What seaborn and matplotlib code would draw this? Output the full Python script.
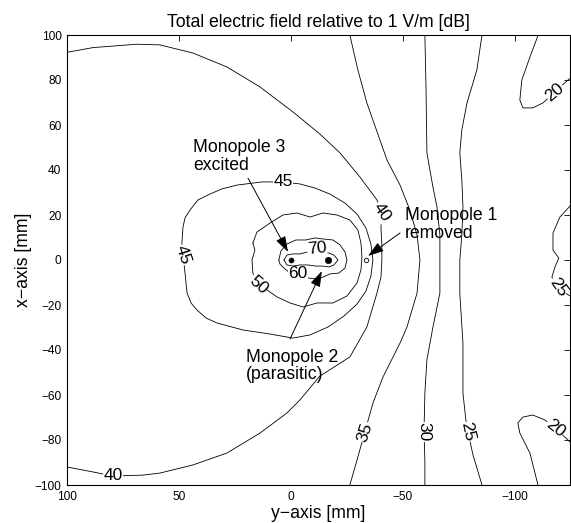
import matplotlib
matplotlib.use("Agg")
import matplotlib.pyplot as plt
import pandas as pd
import seaborn as sns

sns.set_theme(style="white")
plt.rcParams["font.family"] = ["Liberation Sans", "DejaVu Sans"]
plt.rcParams["axes.unicode_minus"] = True
plt.rcParams["text.color"] = "black"
plt.rcParams["axes.labelcolor"] = "black"
plt.rcParams["xtick.color"] = "black"
plt.rcParams["ytick.color"] = "black"

# Iso-lines of the total electric field (dB re 1 V/m).
# Horizontal coordinate: y-axis [mm]; vertical coordinate: x-axis [mm].
c20a_y = [-110.4, -106.7, -103.1, -102.2, -103.6, -108.0, -112.5, -117.9, -123.7, -126.0]
c20a_x = [100.0, 90.2, 80.0, 71.1, 67.6, 67.6, 69.8, 74.7, 80.0, 81.8]

c20b_y = [-110.3, -106.7, -102.2, -101.3, -103.6, -108.0, -113.4, -117.9, -123.7, -126.0]
c20b_x = [-100.0, -85.8, -76.9, -72.4, -69.8, -68.9, -71.1, -74.7, -80.0, -82.0]

c25a_y = [-85.3, -83.0, -78.6, -76.3, -75.4, -76.3, -76.8, -76.3, -75.4, -75.4,
          -76.8, -76.8, -78.1, -79.0, -81.3, -85.3]
c25a_x = [100.0, 84.4, 69.8, 57.8, 47.6, 35.6, 23.6, 11.1, 0.0, -14.7,
          -36.9, -59.1, -71.1, -76.4, -86.7, -100.0]

c25b_y = [-126.0, -120.1, -117.0, -117.0, -119.6, -117.9, -116.5, -119.2, -123.2, -126.0]
c25b_x = [25.5, 19.1, 12.0, 4.4, 0.9, -3.1, -7.6, -12.0, -15.1, -16.8]

c30_y = [-59.8, -60.3, -60.7, -63.4, -65.2, -66.5, -66.5, -66.5, -63.4, -60.7,
         -59.8, -59.4, -59.8, -59.8]
c30_x = [100.0, 76.9, 47.6, 32.4, 23.6, 11.1, 0.0, -14.7, -29.8, -44.4,
         -59.1, -76.4, -88.9, -100.0]

c35_y = [-26.3, -29.9, -33.9, -42.9, -48.7, -53.1, -56.3, -57.6, -56.3, -51.8,
         -48.7, -41.1, -36.6, -33.0, -29.5, -26.3]
c35_x = [100.0, 84.4, 69.8, 44.4, 33.3, 22.2, 11.1, 0.0, -14.7, -29.8,
         -36.9, -52.0, -63.6, -76.4, -88.9, -100.0]

c40_y = [100.0, 88.4, 68.8, 58.5, 43.8, 28.6, 13.8, -0.9, -12.9, -21.9, -30.8,
         -38.4, -40.5, -40.2, -40.6, -40.6, -40.2, -38.4, -33.9, -26.3, -12.9,
         -4.0, 1.8, 13.8, 28.6, 43.8, 58.5, 66.1, 79.5, 88.4, 100.0]
c40_x = [92.3, 94.4, 95.9, 95.6, 92.0, 85.8, 76.9, 65.8, 56.0, 47.6, 36.9,
         26.7, 21.3, 14.2, 6.7, 0.0, -7.6, -14.7, -29.8, -43.1, -51.6,
         -62.2, -68.0, -76.9, -85.8, -91.1, -94.7, -95.6, -96.0, -94.2, -92.0]

c45_y = [3.6, -4.0, -10.7, -17.4, -24.1, -29.5, -33.5, -35.7, -36.6, -35.7,
         -33.5, -29.5, -23.7, -16.5, -8.5, -0.9, 9.4, 21.4, 33.0, 37.9, 42.0, 44.6,
         46.4, 47.3, 48.2, 48.7, 48.2, 47.3, 45.1, 41.5, 36.2, 30.8, 24.1, 12.9, 3.6]
c45_x = [34.7, 33.8, 32.0, 29.3, 25.3, 20.4, 14.2, 7.1, 0.0, -7.1,
         -13.8, -19.6, -24.9, -29.8, -33.3, -34.7, -32.9, -31.1, -28.0, -25.8, -22.2, -19.1,
         -14.7, -5.8, 2.2, 7.6, 14.7, 18.7, 22.2, 26.7, 29.3, 31.6, 33.3, 34.7, 34.7]

c50_y = [17.0, 15.2, 9.4, 3.6, -2.7, -8.5, -14.3, -20.5, -26.3, -29.9, -31.25,
         -31.7, -31.25, -29.5, -25.0, -18.75, -11.6, -5.4, 0.4, 6.25, 10.7,
         14.7, 17.0, 17.4, 16.1, 17.0]
c50_x = [7.6, 12.4, 16.4, 20.0, 20.9, 19.1, 20.9, 20.0, 17.8, 13.3, 7.6,
         1.3, -4.4, -10.2, -16.0, -19.1, -19.1, -20.9, -19.1, -16.4, -13.3,
         -11.1, -5.8, 0.0, 4.4, 7.6]

c60_y = [5.4, 4.5, 1.8, -2.2, -6.7, -10.7, -14.7, -18.75, -21.9, -24.1, -25.0,
         -24.1, -21.4, -17.4, -14.3, -11.2, -7.6, -3.1, 0.4, 3.1, 4.9, 5.4]
c60_x = [0.0, 4.0, 7.1, 8.9, 8.9, 9.8, 9.3, 8.9, 6.7, 3.6, 0.0,
         -3.6, -5.8, -6.2, -7.6, -8.4, -8.0, -6.7, -5.8, -3.6, -1.8, 0.0]

c70_y = [3.1, 1.8, -0.9, -4.0, -7.6, -11.6, -14.7, -17.0, -19.2, -21.0,
         -19.2, -17.0, -14.3, -11.2, -7.6, -4.0, -0.9, 1.8, 3.1]
c70_x = [0.0, 2.2, 2.7, 2.7, 3.6, 4.9, 3.1, 3.1, 2.2, 0.0,
         -2.2, -3.1, -2.7, -2.7, -2.2, -2.2, -2.7, -2.2, 0.0]

contour_paths = [
    (c20a_y, c20a_x), (c20b_y, c20b_x), (c25a_y, c25a_x), (c25b_y, c25b_x),
    (c30_y, c30_x), (c35_y, c35_x), (c40_y, c40_x), (c45_y, c45_x),
    (c50_y, c50_x), (c60_y, c60_x), (c70_y, c70_x),
]

# Inline contour labels
label_level = [40, 40, 45, 45, 50, 60, 70, 35, 30, 25, 20, 25, 20]
label_y = [-40.5, 79.5, 3.6, 48.2, 14.7, -3.1, -11.6, -33.0, -59.4, -79.0, -117.9, -119.2, -117.9]
label_x = [21.3, -96.0, 34.7, 2.2, -11.1, -6.2, 4.9, -76.4, -76.4, -76.4, 74.7, -12.0, -74.7]
label_rot = [-55, 0, 0, -72, -42, 0, 6, 72, -90, -78, 40, -55, -38]

# Monopole positions
mono_name = ["Monopole 3", "Monopole 2", "Monopole 1"]
mono_y = [0.0, -16.5, -33.5]
mono_x = [0.0, 0.0, 0.0]

fig = plt.figure(figsize=(5.71, 5.23), dpi=100)
ax = fig.add_axes([67 / 571, 38 / 523, 503 / 571, 450 / 523])

for ys, xs in contour_paths:
    df = pd.DataFrame({"y": ys, "x": xs})
    sns.lineplot(data=df, x="y", y="x", sort=False, estimator=None,
                 color="black", lw=0.6, ax=ax, zorder=2)

for lev, ly, lx, rot in zip(label_level, label_y, label_x, label_rot):
    ax.text(ly, lx, str(lev), fontsize=12.5, rotation=rot,
            rotation_mode="anchor", ha="center", va="center", zorder=3,
            bbox=dict(boxstyle="square,pad=0.02", fc="white", ec="none"))

# excited and parasitic monopoles (filled), removed monopole (open)
sns.scatterplot(x=mono_y[:1], y=mono_x[:1], s=14, color="black",
                edgecolor="black", ax=ax, zorder=4)
sns.scatterplot(x=mono_y[1:2], y=mono_x[1:2], s=22, color="black",
                edgecolor="black", ax=ax, zorder=4)
sns.scatterplot(x=mono_y[2:], y=mono_x[2:], s=10, color="white",
                edgecolor="black", linewidth=0.6, ax=ax, zorder=4)

arrow = dict(arrowstyle="-|>,head_length=0.8,head_width=0.26", color="black",
             lw=0.7, shrinkA=0, shrinkB=0, mutation_scale=12)
ax.text(43.75, 46.0, "Monopole 3\nexcited", fontsize=12.7, ha="left",
        va="center", linespacing=1.05, zorder=5)
ax.annotate("", xy=(1.3, 3.6), xytext=(19.2, 36.4), arrowprops=arrow, zorder=5)

ax.text(-50.9, 15.8, "Monopole 1\nremoved", fontsize=12.7, ha="left",
        va="center", linespacing=1.05, zorder=5)
ax.annotate("", xy=(-34.4, 1.8), xytext=(-48.7, 12.0), arrowprops=arrow, zorder=5)

ax.text(20.1, -47.1, "Monopole 2\n(parasitic)", fontsize=12.7, ha="left",
        va="center", linespacing=1.05, zorder=5)
ax.annotate("", xy=(-13.8, -4.9), xytext=(0.4, -35.1), arrowprops=arrow, zorder=5)

ax.set_xlim(100, -124.6)
ax.set_ylim(-100, 100)
ax.set_xticks([100, 50, 0, -50, -100])
ax.set_yticks(range(-100, 101, 20))
ax.tick_params(direction="in", length=4, width=0.6, top=True, right=True,
               labelsize=8.6, pad=4, colors="black")
for sp in ax.spines.values():
    sp.set_visible(True)
    sp.set_color("black")
    sp.set_linewidth(0.8)

ax.set_xlabel("y\u2212axis [mm]", fontsize=12.7, labelpad=2)
ax.set_ylabel("x\u2212axis [mm]", fontsize=12.7, labelpad=2)
ax.set_title("Total electric field relative to 1 V/m [dB]", fontsize=12.7, pad=6)

fig.savefig("out.png", dpi=100)
